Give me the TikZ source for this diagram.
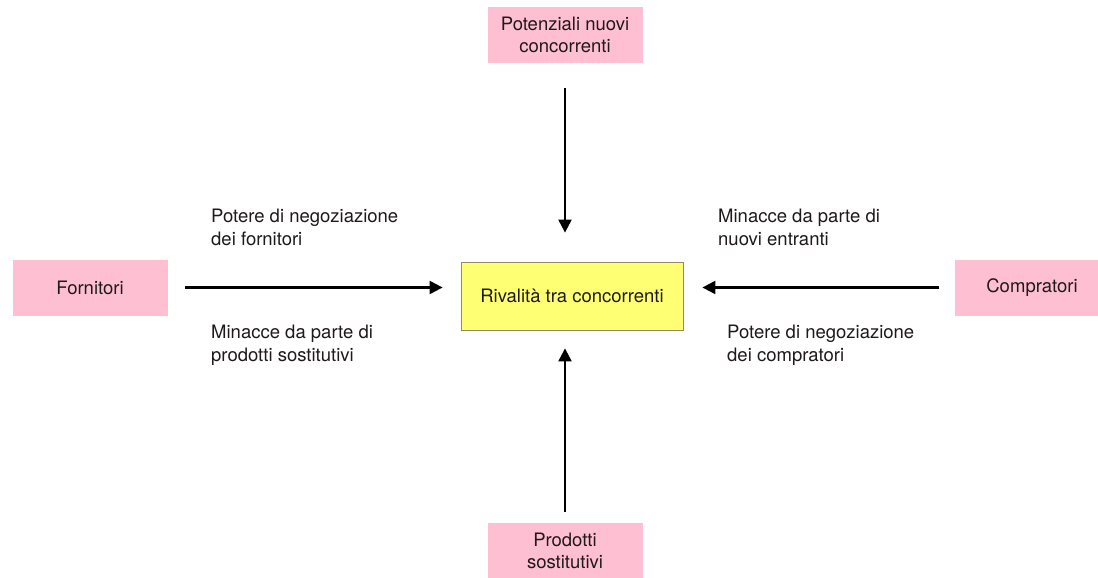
\documentclass[tikz,border=0pt]{standalone}
\usepackage{fontspec}
\setmainfont{TeX Gyre Heros}
\usetikzlibrary{arrows.meta}
\definecolor{boxpink}{RGB}{255,191,211}
\definecolor{boxyellow}{RGB}{255,255,115}
\definecolor{yellowedge}{RGB}{150,140,95}
\definecolor{ink}{RGB}{30,25,28}
\tikzset{
  force/.style={rectangle, fill=boxpink, draw=none, minimum width=155pt, minimum height=56pt,
    align=center, inner sep=0pt, text=ink, font=\fontsize{18.5}{22.5}\selectfont},
  core/.style={rectangle, fill=boxyellow, draw=yellowedge, line width=0.8pt,
    minimum width=222pt, minimum height=68pt, inner sep=0pt, text=ink,
    font=\fontsize{18.5}{22.5}\selectfont},
  note/.style={anchor=base west, align=left, inner sep=0pt, text=ink,
    font=\fontsize{18.5}{22.5}\selectfont},
  flow/.style={line width=2.2pt, -{Triangle[length=13pt,width=13pt]}},
}
\begin{document}
\begin{tikzpicture}[x=1pt,y=-1pt]
  \useasboundingbox (0,0) rectangle (1098,578);
  \fill[white] (0,0) rectangle (1098,578);
  \clip (0,0) rectangle (1098,578);

  % the five forces
  \node[core]  (rival) at (572,296) {Rivalità tra concorrenti};
  \node[force] (entry) at (565,35)  {Potenziali nuovi\\concorrenti};
  \node[force] (subst) at (565,551) {Prodotti\\sostitutivi};
  \node[force] (suppl) at (90,287.5) {Fornitori};
  \node[force] (buyer) at (1032,287.5) {Compratori};

  % arrows into the centre
  \draw[flow, shorten <=25pt, shorten >=29pt] (entry.south) -- (entry.south |- rival.north);
  \draw[flow, shorten <=11pt, shorten >=18pt] (subst.north) -- (subst.north |- rival.south);
  \draw[flow, shorten <=17pt, shorten >=18pt] (suppl.east) -- (suppl.east -| rival.west);
  \draw[flow, shorten <=15pt, shorten >=19pt] (buyer.west) -- (buyer.west -| rival.east);

  % labels beside the horizontal arrows (anchored on the last line)
  \node[note] (lbl-a) at (211,245) {Potere di negoziazione\\dei fornitori};
  \node[note] (lbl-b) at (211,361) {Minacce da parte di\\prodotti sostitutivi};
  \node[note] (lbl-c) at (718,245) {Minacce da parte di\\nuovi entranti};
  \node[note] (lbl-d) at (727,361) {Potere di negoziazione\\dei compratori};
\end{tikzpicture}
\end{document}
